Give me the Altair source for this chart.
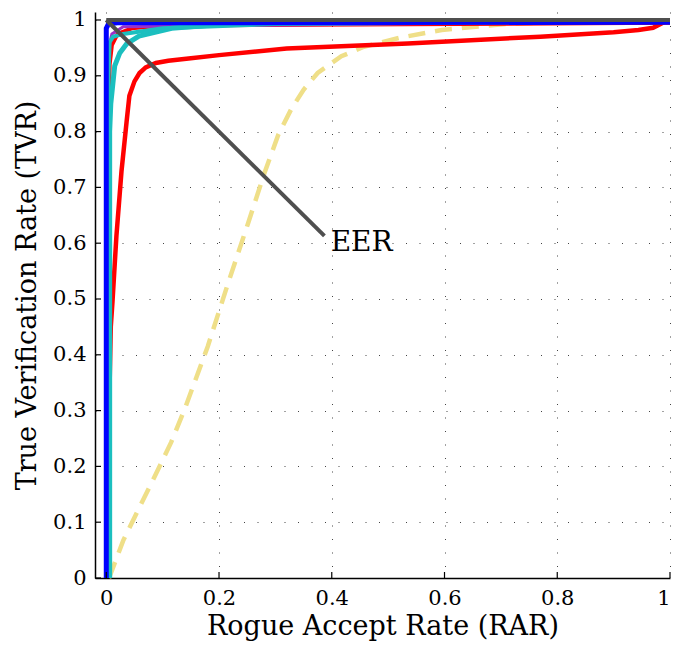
import altair as alt
import pandas as pd

# ---- data ----
yellow_x = [0.005, 0.03, 0.058, 0.085, 0.115, 0.14, 0.18, 0.216, 0.251, 0.28, 0.305, 0.328, 0.35, 0.375, 0.417, 0.457, 0.52, 0.595, 0.71, 0.8, 1.0]
yellow_y = [0.0, 0.067, 0.125, 0.18, 0.243, 0.305, 0.415, 0.528, 0.634, 0.724, 0.794, 0.84, 0.875, 0.905, 0.935, 0.952, 0.968, 0.982, 0.993, 0.996, 0.998]

red_x = [0.002, 0.003, 0.005, 0.008, 0.011, 0.018, 0.027, 0.036, 0.041, 0.05, 0.059, 0.07, 0.088, 0.11, 0.146, 0.2, 0.32, 0.535, 0.77, 0.9, 0.944, 0.97, 0.984, 0.996]
red_y = [0.0, 0.1, 0.3, 0.45, 0.495, 0.613, 0.729, 0.817, 0.864, 0.89, 0.905, 0.915, 0.923, 0.927, 0.931, 0.937, 0.949, 0.958, 0.97, 0.978, 0.982, 0.986, 0.993, 1.0]

red2_x = [0.002, 0.003, 0.004, 0.006, 0.01, 0.02, 0.045, 0.1, 1.0]
red2_y = [0.0, 0.3, 0.8, 0.92, 0.955, 0.975, 0.985, 0.99, 0.995]

purple_x = [0.002, 0.003, 0.004, 0.01, 0.03, 1.0]
purple_y = [0.0, 0.6, 0.95, 0.975, 0.988, 0.998]

cyanA_x = [0.006, 0.006, 0.008, 0.015, 0.024, 0.036, 0.058, 0.116, 0.2, 0.32, 0.5, 1.0]
cyanA_y = [0.0, 0.8, 0.85, 0.918, 0.941, 0.957, 0.971, 0.985, 0.992, 0.996, 0.997, 0.998]

cyanB_x = [0.004, 0.004, 0.006, 0.012, 0.03, 0.1, 0.3, 1.0]
cyanB_y = [0.0, 0.9, 0.96, 0.97, 0.975, 0.985, 0.993, 0.998]

blue_x = [0.0, 0.0, 0.004, 0.02, 1.0]
blue_y = [0.0, 0.985, 0.993, 0.995, 0.996]

top_x = [0.0, 1.0]
top_y = [1.0, 1.0]

eer_x = [0.0, 0.387]
eer_y = [1.0, 0.613]
eer_label = "EER"
eer_label_pos = (0.398, 0.60)

x_ticks = [0, 0.2, 0.4, 0.6, 0.8, 1]
y_ticks = [0, 0.1, 0.2, 0.3, 0.4, 0.5, 0.6, 0.7, 0.8, 0.9, 1]

x_title = "Rogue Accept Rate (RAR)"
y_title = "True Verification Rate (TVR)"

FONT = "DejaVu Serif"
W, H = 575, 566

xs = alt.Scale(domain=[-0.02, 1.0], nice=False, zero=False)
ys = alt.Scale(domain=[0, 1.0143], nice=False, zero=False)

LBL = "datum.value == 0 ? '0' : datum.value == 1 ? '1' : format(datum.value, '.1f')"


def df(xv, yv):
    return pd.DataFrame({"x": xv, "y": yv, "o": list(range(len(xv)))})


def line(xv, yv, color, width, dash=None, first=False):
    kw = dict(color=color, strokeWidth=width, strokeCap="butt")
    if dash:
        kw["strokeDash"] = dash
    m = alt.Chart(df(xv, yv)).mark_line(**kw)
    if first:
        xe = alt.X("x:Q", scale=xs, title=x_title,
                   axis=alt.Axis(values=x_ticks, labelExpr=LBL, labelFlush=True))
        ye = alt.Y("y:Q", scale=ys, title=y_title,
                   axis=alt.Axis(values=y_ticks, labelExpr=LBL, labelFlush=False))
    else:
        xe = alt.X("x:Q", scale=xs)
        ye = alt.Y("y:Q", scale=ys)
    return m.encode(x=xe, y=ye, order="o:Q")


layers = [
    line(yellow_x, yellow_y, "#efdf88", 4.5, dash=[17, 10], first=True),
    line(red_x, red_y, "#ff0000", 4.5),
    line(red2_x, red2_y, "#ff0000", 4),
    line(purple_x, purple_y, "#9b30c8", 3),
    line(cyanA_x, cyanA_y, "#1cbfbf", 5),
    line(cyanB_x, cyanB_y, "#1cbfbf", 4),
    line(blue_x, blue_y, "#0000ff", 5),
    line(top_x, top_y, "#4f4f4f", 4),
    line(eer_x, eer_y, "#4f4f4f", 4),
]

text = alt.Chart(pd.DataFrame({"x": [eer_label_pos[0]], "y": [eer_label_pos[1]], "t": [eer_label]})).mark_text(
    font=FONT, fontSize=28, align="left", baseline="middle", color="#000"
).encode(x=alt.X("x:Q", scale=xs), y=alt.Y("y:Q", scale=ys), text="t:N")

# inward tick marks
yt = alt.Chart(pd.DataFrame({"v": y_ticks})).mark_rule(color="#000", strokeWidth=1.2).encode(
    y=alt.Y("v:Q", scale=ys), x=alt.value(0), x2=alt.value(6))
xt = alt.Chart(pd.DataFrame({"v": x_ticks})).mark_rule(color="#000", strokeWidth=1.2).encode(
    x=alt.X("v:Q", scale=xs), y=alt.value(H), y2=alt.value(H - 6))

chart = alt.layer(*layers, text, yt, xt).properties(
    width=W, height=H,
    autosize=alt.AutoSizeParams(type="none"),
    padding={"left": 87, "top": 4, "right": 2, "bottom": 73},
).configure_view(stroke=None).configure_axis(
    labelFont=FONT, titleFont=FONT, labelFontSize=21, titleFontSize=27,
    labelColor="#000", titleColor="#000", titleFontWeight="normal",
    domainColor="#000", domainWidth=1.5, tickSize=0,
    grid=True, gridColor="#444", gridDash=[1, 12.5], gridWidth=1,
).configure_axisY(labelPadding=9, titlePadding=11).configure_axisX(labelPadding=9, titlePadding=5)

chart.save("out.html", embed_options={"renderer": "svg", "actions": False})
